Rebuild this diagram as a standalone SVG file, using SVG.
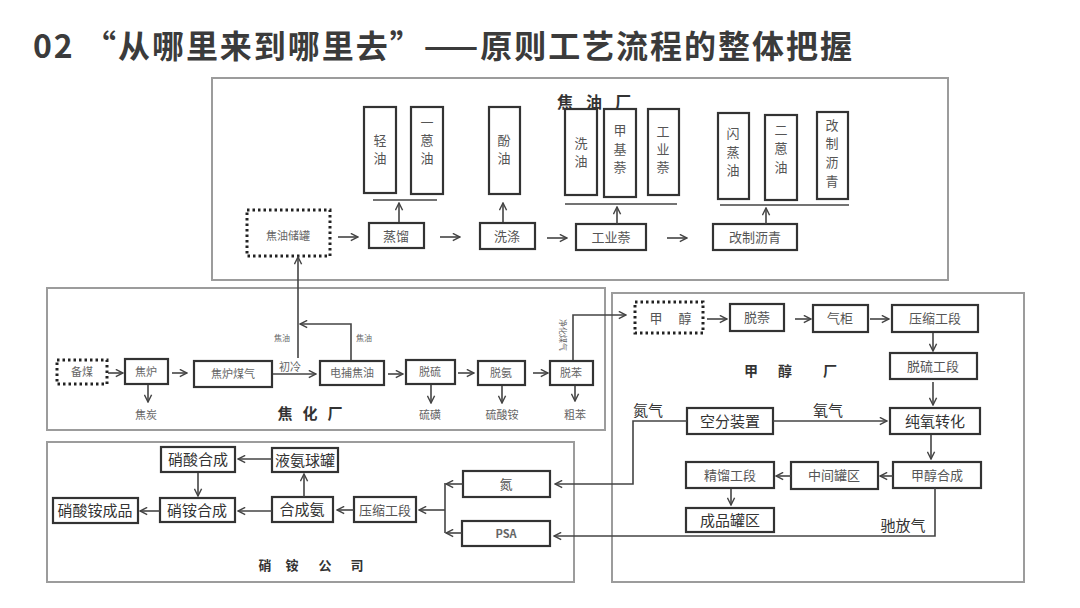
<svg xmlns="http://www.w3.org/2000/svg" width="1080" height="608" viewBox="0 0 1080 608">
<defs>
<style>
.panel{fill:none;stroke:#9c9c9c;stroke-width:2}
.box{fill:#fff;stroke:#333;stroke-width:2.2}
.dot{fill:none;stroke:#222;stroke-width:3;stroke-dasharray:2.5 3}
.ln{fill:none;stroke:#444;stroke-width:1.6}
.ar{fill:none;stroke:#444;stroke-width:1.6;marker-end:url(#a)}
text{font-family:"Noto Sans CJK SC","Noto Sans",sans-serif}
.t{font-size:13px;fill:#555;text-anchor:middle}
.s{font-size:11px;fill:#666;text-anchor:middle}
.xs{font-size:8px;fill:#666;text-anchor:middle}
.d{font-size:15px;fill:#333;text-anchor:middle}
.ttl{font-weight:bold;fill:#333;text-anchor:middle}
</style>
<marker id="a" viewBox="0 0 10 10" refX="9" refY="5" markerWidth="9" markerHeight="9" orient="auto" markerUnits="userSpaceOnUse"><path d="M1,1 L9,5 L1,9" fill="none" stroke="#444" stroke-width="1.6"/></marker>
</defs>
<rect width="1080" height="608" fill="#fff"/>
<text x="33" y="58" font-size="32" font-weight="bold" fill="#3b3b3b" textLength="819" lengthAdjust="spacing">02 “从哪里来到哪里去”——原则工艺流程的整体把握</text>

<g id="panels">
<rect class="panel" x="212" y="78" width="736" height="202"/>
<rect class="panel" x="47" y="288" width="558" height="142"/>
<rect class="panel" x="612" y="293" width="412" height="289"/>
<rect class="panel" x="47" y="442" width="527" height="140"/>
</g>

<g id="titles">
<text class="ttl" font-size="16"><tspan x="565" y="108">焦</tspan><tspan x="594" y="108">油</tspan><tspan x="623" y="108">厂</tspan></text>
<text class="ttl" font-size="15"><tspan x="285" y="419">焦</tspan><tspan x="310" y="419">化</tspan><tspan x="335" y="419">厂</tspan></text>
<text class="ttl" font-size="14"><tspan x="751" y="376">甲</tspan><tspan x="785" y="376">醇</tspan><tspan x="830" y="376">厂</tspan></text>
<text class="ttl" font-size="13"><tspan x="265" y="570">硝</tspan><tspan x="292" y="570">铵</tspan><tspan x="325" y="570">公</tspan><tspan x="357" y="570">司</tspan></text>
</g>

<g id="n-jyg"><rect class="dot" x="247" y="210" width="83" height="46"/><text class="s" x="288" y="240" fill="#888">焦油储罐</text></g>
<g id="n-zl"><rect class="box" x="369" y="223" width="55" height="25"/><text class="t" x="396" y="241">蒸馏</text></g>
<g id="n-xd"><rect class="box" x="480" y="223" width="55" height="26"/><text class="t" x="507" y="241">洗涤</text></g>
<g id="n-gyn"><rect class="box" x="576" y="224" width="70" height="26"/><text class="t" x="611" y="242">工业萘</text></g>
<g id="n-gzlq"><rect class="box" x="713" y="224" width="84" height="26"/><text class="t" x="755" y="242">改制沥青</text></g>
<g id="n-qy"><rect class="box" x="364" y="107" width="32" height="86"/><text class="t"><tspan x="380" y="145">轻</tspan><tspan x="380" y="163">油</tspan></text></g>
<g id="n-yey"><rect class="box" x="411" y="107" width="32" height="87"/><text class="t"><tspan x="427" y="127">一</tspan><tspan x="427" y="145">蒽</tspan><tspan x="427" y="163">油</tspan></text></g>
<g id="n-fy"><rect class="box" x="489" y="107" width="31" height="87"/><text class="t"><tspan x="504" y="145">酚</tspan><tspan x="504" y="163">油</tspan></text></g>
<g id="n-xy"><rect class="box" x="565" y="109" width="32" height="86"/><text class="t"><tspan x="581" y="148">洗</tspan><tspan x="581" y="166">油</tspan></text></g>
<g id="n-jjn"><rect class="box" x="604" y="109" width="32" height="88"/><text class="t"><tspan x="620" y="135">甲</tspan><tspan x="620" y="154">基</tspan><tspan x="620" y="172">萘</tspan></text></g>
<g id="n-gyn2"><rect class="box" x="648" y="109" width="31" height="86"/><text class="t"><tspan x="663" y="136">工</tspan><tspan x="663" y="154">业</tspan><tspan x="663" y="172">萘</tspan></text></g>
<g id="n-szy"><rect class="box" x="718" y="113" width="31" height="86"/><text class="t"><tspan x="733" y="138">闪</tspan><tspan x="733" y="157">蒸</tspan><tspan x="733" y="175">油</tspan></text></g>
<g id="n-eey"><rect class="box" x="765" y="115" width="32" height="85"/><text class="t"><tspan x="781" y="135">二</tspan><tspan x="781" y="153">蒽</tspan><tspan x="781" y="172">油</tspan></text></g>
<g id="n-gzlq2"><rect class="box" x="817" y="112" width="31" height="87"/><text class="t"><tspan x="832" y="130">改</tspan><tspan x="832" y="148">制</tspan><tspan x="832" y="167">沥</tspan><tspan x="832" y="186">青</tspan></text></g>

<g id="n-bm"><rect class="dot" x="57" y="360" width="50" height="24"/><text class="s" x="82" y="376">备煤</text></g>
<g id="n-jl"><rect class="box" x="125" y="359" width="43" height="25"/><text class="s" x="146" y="376">焦炉</text></g>
<g id="n-jlmq"><rect class="box" x="194" y="361" width="78" height="26"/><text class="s" x="233" y="378">焦炉煤气</text></g>
<g id="n-dbjy"><rect class="box" x="320" y="361" width="64" height="24"/><text class="s" x="352" y="377">电捕焦油</text></g>
<g id="n-tl"><rect class="box" x="406" y="360" width="49" height="24"/><text class="s" x="430" y="376">脱硫</text></g>
<g id="n-ta"><rect class="box" x="478" y="361" width="47" height="24"/><text class="s" x="501" y="377">脱氨</text></g>
<g id="n-tb"><rect class="box" x="550" y="361" width="43" height="24"/><text class="s" x="571" y="377">脱苯</text></g>

<g id="n-jc"><rect class="dot" x="635" y="302" width="68" height="31"/><text class="t"><tspan x="656" y="323">甲</tspan><tspan x="685" y="323">醇</tspan></text></g>
<g id="n-tn"><rect class="box" x="730" y="304" width="54" height="27"/><text class="t" x="757" y="322">脱萘</text></g>
<g id="n-qg"><rect class="box" x="813" y="305" width="55" height="27"/><text class="t" x="840" y="323">气柜</text></g>
<g id="n-ysgd"><rect class="box" x="892" y="305" width="86" height="27"/><text class="t" x="935" y="323">压缩工段</text></g>
<g id="n-tlgd"><rect class="box" x="890" y="353" width="87" height="26"/><text class="t" x="933" y="371">脱硫工段</text></g>
<g id="n-cyzh"><rect class="box" x="890" y="408" width="90" height="26"/><text class="d" x="935" y="427">纯氧转化</text></g>
<g id="n-kf"><rect class="box" x="687" y="408" width="86" height="26"/><text class="d" x="730" y="427">空分装置</text></g>
<g id="n-jchc"><rect class="box" x="893" y="462" width="88" height="26"/><text class="t" x="937" y="480">甲醇合成</text></g>
<g id="n-zjgq"><rect class="box" x="791" y="462" width="87" height="27"/><text class="t" x="834" y="480">中间罐区</text></g>
<g id="n-jlgd"><rect class="box" x="686" y="462" width="88" height="26"/><text class="t" x="730" y="480">精馏工段</text></g>
<g id="n-cpgq"><rect class="box" x="686" y="508" width="88" height="24"/><text class="d" x="730" y="526">成品罐区</text></g>

<g id="n-xshc"><rect class="box" x="161" y="447" width="74" height="25"/><text class="d" x="198" y="465">硝酸合成</text></g>
<g id="n-yagq"><rect class="box" x="272" y="448" width="66" height="24"/><text class="d" x="305" y="466">液氨球罐</text></g>
<g id="n-xahc"><rect class="box" x="160" y="498" width="75" height="24"/><text class="d" x="197" y="516">硝铵合成</text></g>
<g id="n-hca"><rect class="box" x="272" y="497" width="61" height="25"/><text class="d" x="302" y="515">合成氨</text></g>
<g id="n-xacp"><rect class="box" x="53" y="498" width="85" height="25"/><text class="d" x="95" y="516">硝酸铵成品</text></g>
<g id="n-ys2"><rect class="box" x="354" y="497" width="62" height="25"/><text class="t" x="385" y="515">压缩工段</text></g>
<g id="n-d"><rect class="box" x="463" y="471" width="87" height="26"/><text class="t" x="506" y="489">氮</text></g>
<g id="n-psa"><rect class="box" x="462" y="521" width="88" height="25"/><text class="s" x="506" y="538" font-weight="bold" font-family="Liberation Sans,sans-serif">PSA</text></g>

<g id="labels">
<text class="s" x="146" y="419">焦炭</text>
<text class="s" x="430" y="419">硫磺</text>
<text class="s" x="502" y="419">硫酸铵</text>
<text class="s" x="575" y="419">粗苯</text>
<text class="s" x="290" y="371" font-size="10">初冷</text>
<text class="xs" x="282" y="341">焦油</text>
<text class="xs" x="364" y="341">焦油</text>
<text class="xs" transform="translate(563,335) rotate(90)" x="0" y="3">净化煤气</text>
<text class="d" x="648" y="416">氮气</text>
<text class="d" x="828" y="416">氧气</text>
<text class="d" x="903" y="531">驰放气</text>
</g>

<g id="connectors">
<path class="ar" d="M338,237 H358"/>
<path class="ar" d="M399,222 V203"/>
<path class="ln" d="M373,200 H437"/>
<path class="ar" d="M440,237 H460"/>
<path class="ar" d="M503,222 V203"/>
<path class="ar" d="M547,238 H567"/>
<path class="ar" d="M617,224 V207"/>
<path class="ln" d="M565,204 H677"/>
<path class="ar" d="M667,238 H687"/>
<path class="ar" d="M766,224 V208"/>
<path class="ln" d="M720,205 H849"/>

<path class="ar" d="M108,373 H123"/>
<path class="ar" d="M148,385 V402"/>
<path class="ar" d="M172,373 H187"/>
<path class="ar" d="M273,374 H316"/>
<path class="ar" d="M298,358 V257"/>
<path class="ar" d="M351,360 V324 H300"/>
<path class="ar" d="M388,374 H403"/>
<path class="ar" d="M431,385 V403"/>
<path class="ar" d="M458,373 H474"/>
<path class="ar" d="M502,386 V403"/>
<path class="ar" d="M533,373 H548"/>
<path class="ar" d="M575,386 V401"/>
<path class="ar" d="M573,360 V315 H626"/>

<path class="ar" d="M707,319 H727"/>
<path class="ar" d="M795,319 H811"/>
<path class="ar" d="M870,319 H889"/>
<path class="ar" d="M933,333 V351"/>
<path class="ar" d="M933,382 V405"/>
<path class="ar" d="M773,421 H887"/>
<path class="ar" d="M931,435 V459"/>
<path class="ar" d="M893,476 H880"/>
<path class="ar" d="M791,476 H776"/>
<path class="ar" d="M731,489 V505"/>
<path class="ar" d="M687,421 H633 V484 H555"/>
<path class="ar" d="M935,488 V536 H554"/>

<path class="ar" d="M463,484 H446"/>
<path class="ar" d="M462,533 H446"/>
<path class="ln" d="M445,483 V533"/>
<path class="ar" d="M445,510 H419"/>
<path class="ar" d="M354,510 H337"/>
<path class="ar" d="M304,497 V474"/>
<path class="ar" d="M272,459 H238"/>
<path class="ar" d="M198,473 V496"/>
<path class="ar" d="M272,511 H238"/>
<path class="ar" d="M160,511 H140"/>
</g>
</svg>
